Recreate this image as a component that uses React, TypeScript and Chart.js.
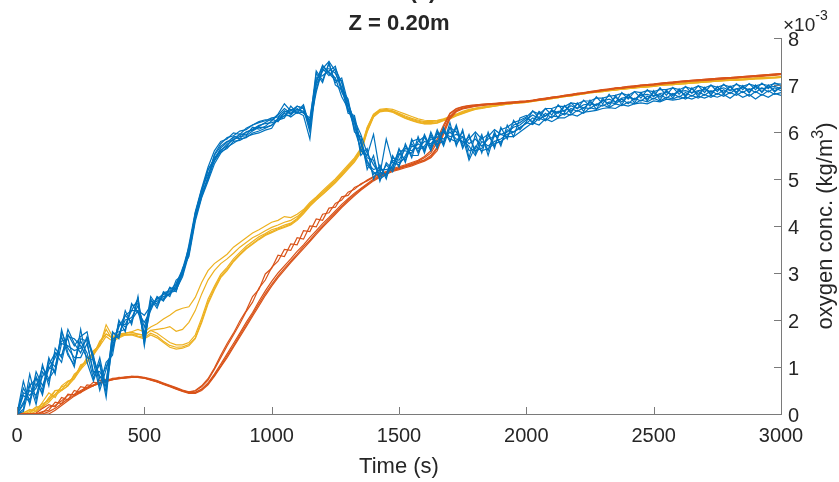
import React, { useEffect, useRef } from "react";
import { Chart, registerables } from "chart.js";

Chart.register(...registerables);

// Time grid (s)
const times = [
  0, 25, 50, 75, 100, 125, 150, 175, 200, 225,
  250, 275, 300, 325, 350, 375, 400, 425, 450, 475,
  500, 525, 550, 575, 600, 625, 650, 675, 700, 725,
  750, 775, 800, 825, 850, 875, 900, 925, 950, 975,
  1000, 1025, 1050, 1075, 1100, 1125, 1150, 1175, 1200, 1225,
  1250, 1275, 1300, 1325, 1350, 1375, 1400, 1425, 1450, 1475,
  1500, 1525, 1550, 1575, 1600, 1625, 1650, 1675, 1700, 1725,
  1750, 1775, 1800, 1825, 1850, 1875, 1900, 1925, 1950, 1975,
  2000, 2025, 2050, 2075, 2100, 2125, 2150, 2175, 2200, 2225,
  2250, 2275, 2300, 2325, 2350, 2375, 2400, 2425, 2450, 2475,
  2500, 2525, 2550, 2575, 2600, 2625, 2650, 2675, 2700, 2725,
  2750, 2775, 2800, 2825, 2850, 2875, 2900, 2925, 2950, 2975,
  3000,
];

// oxygen concentration, units of 1e-3 kg/m^3
const blue1 = [
  0, 0.7, 0.2, 0.8, 0.5, 1.2, 0.85, 1.8, 1.3, 1.0,
  1.8, 1.1, 0.7, 1.1, 0.45, 1.75, 1.6, 2.2, 1.9, 2.5,
  1.5, 2.45, 2.25, 2.6, 2.5, 2.85, 2.95, 3.6, 4.3, 4.8,
  5.25, 5.6, 5.8, 5.85, 5.98, 5.95, 6.08, 6.15, 6.22, 6.26,
  6.25, 6.38, 6.6, 6.45, 6.55, 6.5, 6.0, 7.25, 7.05, 7.48,
  7.0, 6.9, 6.65, 6.0, 5.9, 5.2, 5.5, 4.95, 5.35, 5.2,
  5.65, 5.35, 5.85, 5.55, 5.95, 5.65, 6.05, 5.75, 6.2, 5.7,
  6.05, 5.45, 5.95, 5.55, 6.0, 5.65, 6.1, 5.85, 6.25, 6.05,
  6.22, 6.45, 6.3, 6.5, 6.36, 6.58, 6.42, 6.62, 6.5, 6.68,
  6.55, 6.75, 6.6, 6.8, 6.62, 6.84, 6.7, 6.86, 6.72, 6.9,
  6.76, 6.94, 6.78, 6.95, 6.8, 6.97, 6.82, 6.98, 6.84, 7.0,
  6.86, 7.02, 6.88, 7.03, 6.9, 7.03, 6.9, 7.04, 6.92, 7.05,
  6.98,
];
const blue2 = [
  0, 0.1, 0.85, 0.3, 1.05, 0.6, 1.4, 1.2, 1.8, 1.5,
  1.3, 1.65, 1.25, 0.6, 1.1, 1.25, 2.0, 1.75, 2.35, 2.15,
  1.95, 2.2, 2.5, 2.4, 2.7, 2.6, 3.1, 3.35, 4.1, 4.6,
  4.95, 5.32, 5.55, 5.68, 5.76, 5.85, 5.88, 5.98, 6.02, 6.08,
  6.15, 6.25, 6.3, 6.55, 6.4, 6.42, 6.25, 6.9, 7.35, 7.2,
  7.35, 7.05, 6.45, 6.3, 5.5, 5.65, 5.0, 5.3, 5.0, 5.5,
  5.25, 5.75, 5.45, 5.9, 5.55, 6.0, 5.7, 6.1, 5.8, 6.1,
  5.65, 5.95, 5.55, 5.9, 5.6, 6.0, 5.7, 6.15, 5.9, 6.3,
  6.35, 6.18, 6.42, 6.25, 6.48, 6.3, 6.56, 6.4, 6.62, 6.44,
  6.68, 6.48, 6.72, 6.54, 6.78, 6.58, 6.8, 6.62, 6.84, 6.66,
  6.88, 6.68, 6.9, 6.72, 6.92, 6.74, 6.94, 6.75, 6.95, 6.78,
  6.97, 6.8, 6.98, 6.82, 6.99, 6.83, 7.0, 6.84, 7.0, 6.85,
  6.97,
];
const blue3 = [
  0, 0.55, 0.3, 0.65, 0.45, 1.15, 1.0, 1.65, 1.25, 1.05,
  1.6, 1.55, 0.85, 1.05, 0.35, 1.6, 1.65, 2.1, 2.2, 2.45,
  1.45, 2.4, 2.35, 2.55, 2.55, 2.75, 3.05, 3.5, 4.25, 4.78,
  5.1, 5.38, 5.58, 5.65, 5.8, 5.82, 5.9, 5.95, 5.98, 6.04,
  6.08, 6.3, 6.4, 6.32, 6.42, 6.35, 5.85, 7.05, 7.4, 7.28,
  7.15, 6.75, 6.5, 6.1, 5.8, 5.3, 5.15, 5.05, 5.3, 5.15,
  5.5, 5.7, 5.5, 5.5, 5.9, 5.6, 6.0, 5.7, 6.1, 5.75,
  5.9, 5.4, 5.7, 5.6, 5.65, 5.75, 5.8, 5.9, 5.9, 6.0,
  6.1, 6.2, 6.15, 6.28, 6.22, 6.3, 6.3, 6.38, 6.34, 6.42,
  6.44, 6.46, 6.5, 6.52, 6.5, 6.58, 6.55, 6.6, 6.62, 6.6,
  6.66, 6.64, 6.7, 6.68, 6.7, 6.74, 6.7, 6.76, 6.72, 6.78,
  6.74, 6.8, 6.72, 6.82, 6.74, 6.8, 6.7, 6.8, 6.74, 6.82,
  6.78,
];
const blue4 = [
  0, 0.2, 0.65, 0.2, 0.9, 0.7, 1.3, 1.25, 1.65, 1.6,
  1.45, 1.2, 1.15, 0.75, 1.0, 1.35, 1.95, 1.85, 2.0, 2.2,
  2.1, 2.3, 2.45, 2.45, 2.68, 2.65, 2.92, 3.4, 4.15, 4.62,
  5.02, 5.52, 5.75, 5.88, 5.92, 6.02, 6.05, 6.15, 6.2, 6.24,
  6.3, 6.32, 6.45, 6.38, 6.55, 6.5, 6.2, 7.3, 7.1, 7.45,
  7.05, 7.15, 6.62, 6.22, 5.6, 5.5, 5.95, 5.15, 5.1, 5.4,
  5.35, 5.45, 5.8, 5.85, 5.6, 5.95, 5.65, 6.05, 5.8, 6.15,
  5.7, 5.85, 6.0, 5.85, 5.95, 5.7, 6.05, 6.1, 6.2, 6.25,
  6.32, 6.44, 6.38, 6.5, 6.5, 6.55, 6.54, 6.62, 6.6, 6.66,
  6.66, 6.72, 6.72, 6.76, 6.78, 6.82, 6.78, 6.86, 6.84, 6.88,
  6.86, 6.9, 6.9, 6.94, 6.9, 6.96, 6.92, 6.98, 6.94, 6.99,
  6.95, 7.0, 6.96, 7.01, 6.97, 7.02, 6.98, 7.02, 6.99, 7.03,
  7.02,
];
const blue5 = [
  0, 0.45, 0.4, 0.55, 1.0, 0.75, 0.95, 1.75, 1.4, 1.2,
  1.2, 1.5, 0.9, 0.9, 0.65, 1.7, 1.75, 1.8, 2.3, 2.35,
  1.7, 2.5, 2.3, 2.58, 2.62, 2.78, 3.08, 3.55, 4.22, 4.72,
  5.18, 5.45, 5.62, 5.7, 5.88, 5.86, 6.0, 6.06, 6.14, 6.18,
  6.2, 6.24, 6.35, 6.46, 6.4, 6.55, 6.05, 7.0, 7.3, 7.35,
  7.25, 6.95, 6.4, 6.35, 5.75, 5.35, 5.2, 5.25, 5.05, 5.3,
  5.6, 5.6, 5.55, 5.8, 5.9, 5.7, 5.95, 6.0, 5.85, 5.8,
  6.0, 5.6, 5.65, 5.95, 5.5, 5.95, 5.75, 6.05, 6.0, 6.1,
  6.18, 6.3, 6.25, 6.4, 6.3, 6.44, 6.36, 6.5, 6.44, 6.52,
  6.5, 6.6, 6.55, 6.64, 6.6, 6.7, 6.6, 6.72, 6.66, 6.76,
  6.7, 6.8, 6.72, 6.82, 6.74, 6.84, 6.76, 6.86, 6.78, 6.88,
  6.8, 6.9, 6.82, 6.92, 6.84, 6.92, 6.84, 6.94, 6.85, 6.94,
  6.88,
];
const blue6 = [
  0, 0.05, 0.6, 0.75, 0.4, 1.05, 1.3, 1.1, 1.7, 1.45,
  1.65, 1.75, 1.1, 0.5, 0.95, 1.4, 1.85, 2.1, 1.95, 2.45,
  1.6, 2.25, 2.48, 2.42, 2.58, 2.62, 2.98, 3.42, 4.18, 4.66,
  5.05, 5.5, 5.7, 5.8, 5.82, 5.96, 5.94, 6.1, 6.06, 6.12,
  6.24, 6.36, 6.5, 6.4, 6.48, 6.44, 6.15, 6.85, 7.35, 7.5,
  7.3, 6.85, 6.58, 6.25, 5.95, 5.55, 5.3, 5.1, 5.85, 5.35,
  5.3, 5.5, 5.75, 5.6, 5.7, 5.9, 5.75, 5.8, 6.1, 6.0,
  5.75, 5.9, 5.6, 5.65, 5.9, 6.05, 5.95, 5.9, 6.15, 6.2,
  6.3, 6.22, 6.44, 6.34, 6.44, 6.4, 6.56, 6.44, 6.6, 6.5,
  6.64, 6.56, 6.68, 6.6, 6.74, 6.64, 6.78, 6.68, 6.82, 6.7,
  6.84, 6.74, 6.87, 6.77, 6.89, 6.78, 6.92, 6.8, 6.94, 6.82,
  6.95, 6.84, 6.96, 6.85, 6.97, 6.86, 6.98, 6.86, 6.99, 6.88,
  6.94,
];
const blue7 = [
  0, 0.4, 0.25, 0.9, 0.6, 0.95, 1.2, 1.55, 1.6, 1.1,
  1.55, 1.3, 0.75, 1.2, 0.55, 1.45, 1.9, 1.9, 2.2, 2.2,
  1.65, 2.35, 2.4, 2.5, 2.55, 2.72, 3.0, 3.48, 4.28, 4.75,
  5.2, 5.42, 5.6, 5.74, 5.84, 5.9, 5.92, 6.02, 6.1, 6.1,
  6.14, 6.28, 6.34, 6.36, 6.5, 6.4, 6.3, 7.15, 7.2, 7.3,
  7.4, 6.9, 6.7, 6.05, 5.65, 5.4, 5.1, 5.2, 5.2, 5.25,
  5.55, 5.4, 5.7, 5.65, 5.8, 5.75, 5.9, 5.85, 6.0, 5.85,
  5.8, 5.7, 5.5, 5.8, 5.7, 5.8, 5.85, 5.95, 6.0, 6.08,
  6.2, 6.16, 6.3, 6.24, 6.34, 6.32, 6.4, 6.36, 6.46, 6.4,
  6.52, 6.48, 6.58, 6.52, 6.6, 6.56, 6.64, 6.6, 6.68, 6.64,
  6.72, 6.66, 6.74, 6.7, 6.76, 6.7, 6.78, 6.72, 6.8, 6.74,
  6.82, 6.76, 6.84, 6.78, 6.86, 6.76, 6.86, 6.78, 6.88, 6.8,
  6.84,
];
const blue8 = [
  0, 0.25, 0.5, 0.4, 0.8, 1.0, 0.9, 1.5, 1.45, 1.35,
  1.4, 1.6, 1.2, 0.8, 0.7, 1.55, 1.7, 2.0, 2.05, 2.3,
  1.85, 2.28, 2.45, 2.55, 2.6, 2.68, 3.02, 3.44, 4.18, 4.7,
  4.98, 5.4, 5.66, 5.78, 5.9, 5.92, 6.0, 6.04, 6.12, 6.2,
  6.28, 6.22, 6.42, 6.48, 6.44, 6.58, 6.1, 7.08, 7.42, 7.25,
  7.1, 7.1, 6.5, 6.18, 5.8, 5.45, 5.4, 5.0, 5.1, 5.45,
  5.4, 5.65, 5.6, 5.75, 5.65, 5.85, 5.8, 6.0, 5.9, 5.95,
  5.9, 5.75, 5.85, 5.7, 5.85, 5.9, 5.95, 6.0, 6.1, 6.15,
  6.26, 6.36, 6.28, 6.34, 6.46, 6.42, 6.46, 6.56, 6.5, 6.58,
  6.6, 6.58, 6.66, 6.7, 6.64, 6.72, 6.74, 6.7, 6.78, 6.8,
  6.76, 6.82, 6.84, 6.8, 6.86, 6.88, 6.84, 6.88, 6.9, 6.86,
  6.9, 6.94, 6.88, 6.92, 6.95, 6.9, 6.96, 6.92, 6.95, 6.97,
  6.92,
];

const orange1 = [
  0, 0, 0, 0.02, 0.12, 0.2, 0.15, 0.35, 0.3, 0.5,
  0.45, 0.62, 0.6, 0.72, 0.7, 0.76, 0.77, 0.79, 0.8, 0.79,
  0.78, 0.75, 0.71, 0.66, 0.61, 0.56, 0.51, 0.47, 0.5, 0.6,
  0.75, 0.98, 1.25, 1.5, 1.72, 1.98, 2.2, 2.5, 2.65, 2.98,
  3.1, 3.38, 3.35, 3.62, 3.6, 3.9, 3.88, 4.15, 4.12, 4.38,
  4.4, 4.62, 4.65, 4.82, 4.88, 4.98, 5.05, 5.12, 5.16, 5.22,
  5.26, 5.3, 5.35, 5.4, 5.48, 5.6, 5.85, 6.15, 6.4, 6.5,
  6.54, 6.56, 6.58, 6.59, 6.6, 6.61, 6.62, 6.63, 6.64, 6.65,
  6.66, 6.68, 6.7, 6.72, 6.74, 6.76, 6.78, 6.8, 6.82, 6.84,
  6.86, 6.88, 6.9, 6.92, 6.94, 6.95, 6.97, 6.98, 7.0, 7.01,
  7.02, 7.04, 7.05, 7.06, 7.08, 7.09, 7.1, 7.11, 7.12, 7.13,
  7.14, 7.15, 7.16, 7.17, 7.18, 7.19, 7.2, 7.21, 7.22, 7.23,
  7.24,
];
const orange2 = [
  0, 0, 0, 0, 0.05, 0.08, 0.25, 0.22, 0.42, 0.4,
  0.58, 0.55, 0.68, 0.65, 0.74, 0.73, 0.78, 0.77, 0.8, 0.8,
  0.77, 0.73, 0.69, 0.64, 0.59, 0.54, 0.49, 0.46, 0.49, 0.58,
  0.72, 0.95, 1.2, 1.45, 1.68, 1.92, 2.18, 2.38, 2.68, 2.85,
  3.12, 3.25, 3.5, 3.48, 3.75, 3.72, 4.0, 3.98, 4.25, 4.28,
  4.48, 4.55, 4.72, 4.78, 4.9, 4.96, 5.04, 5.1, 5.15, 5.2,
  5.24, 5.28, 5.33, 5.38, 5.45, 5.55, 5.78, 6.1, 6.38, 6.49,
  6.53, 6.56, 6.57, 6.59, 6.6, 6.6, 6.62, 6.63, 6.63, 6.65,
  6.66, 6.67, 6.7, 6.71, 6.74, 6.75, 6.78, 6.79, 6.82, 6.83,
  6.86, 6.87, 6.9, 6.91, 6.93, 6.95, 6.96, 6.98, 6.99, 7.01,
  7.02, 7.03, 7.05, 7.06, 7.07, 7.09, 7.1, 7.11, 7.12, 7.13,
  7.14, 7.15, 7.16, 7.17, 7.18, 7.19, 7.2, 7.21, 7.22, 7.23,
  7.24,
];
const orange3 = [
  0, 0, 0, 0, 0, 0.05, 0.12, 0.22, 0.32, 0.4,
  0.48, 0.55, 0.6, 0.66, 0.7, 0.73, 0.75, 0.77, 0.78, 0.78,
  0.76, 0.73, 0.69, 0.64, 0.59, 0.54, 0.49, 0.45, 0.45, 0.52,
  0.64, 0.82, 1.02, 1.24, 1.45, 1.68, 1.9, 2.12, 2.35, 2.56,
  2.76, 2.94, 3.1, 3.25, 3.4, 3.56, 3.7, 3.86, 4.0, 4.14,
  4.28, 4.42, 4.55, 4.67, 4.78, 4.88, 4.98, 5.06, 5.12, 5.17,
  5.22, 5.26, 5.3, 5.35, 5.4, 5.47, 5.65, 6.0, 6.32, 6.45,
  6.5, 6.53, 6.55, 6.57, 6.58, 6.59, 6.6, 6.61, 6.62, 6.63,
  6.64, 6.66, 6.68, 6.7, 6.72, 6.74, 6.76, 6.78, 6.8, 6.82,
  6.84, 6.86, 6.88, 6.9, 6.92, 6.93, 6.95, 6.96, 6.98, 6.99,
  7.0, 7.02, 7.03, 7.04, 7.06, 7.07, 7.08, 7.09, 7.1, 7.11,
  7.12, 7.13, 7.14, 7.15, 7.16, 7.17, 7.18, 7.19, 7.2, 7.21,
  7.22,
];
const orange4 = [
  0, 0, 0, 0, 0, 0, 0.08, 0.18, 0.28, 0.38,
  0.46, 0.53, 0.6, 0.65, 0.69, 0.73, 0.75, 0.77, 0.78, 0.78,
  0.76, 0.72, 0.68, 0.63, 0.58, 0.53, 0.48, 0.44, 0.44, 0.5,
  0.62, 0.8, 1.0, 1.2, 1.42, 1.64, 1.86, 2.08, 2.3, 2.52,
  2.72, 2.9, 3.06, 3.22, 3.37, 3.52, 3.67, 3.82, 3.97, 4.11,
  4.25, 4.39, 4.52, 4.64, 4.76, 4.86, 4.96, 5.04, 5.1, 5.16,
  5.2, 5.24, 5.28, 5.33, 5.38, 5.45, 5.6, 5.95, 6.28, 6.43,
  6.49, 6.52, 6.55, 6.56, 6.58, 6.59, 6.6, 6.61, 6.62, 6.63,
  6.65, 6.66, 6.69, 6.7, 6.73, 6.74, 6.77, 6.78, 6.81, 6.82,
  6.85, 6.86, 6.89, 6.9, 6.93, 6.93, 6.96, 6.96, 6.99, 6.99,
  7.01, 7.02, 7.04, 7.04, 7.07, 7.07, 7.09, 7.09, 7.11, 7.11,
  7.13, 7.13, 7.15, 7.15, 7.17, 7.17, 7.19, 7.19, 7.21, 7.21,
  7.23,
];
const orange5 = [
  0, 0, 0, 0, 0.03, 0.15, 0.18, 0.28, 0.4, 0.42,
  0.5, 0.57, 0.62, 0.67, 0.71, 0.74, 0.76, 0.78, 0.79, 0.79,
  0.77, 0.74, 0.7, 0.65, 0.6, 0.55, 0.5, 0.46, 0.46, 0.53,
  0.66, 0.85, 1.06, 1.28, 1.5, 1.72, 1.95, 2.16, 2.4, 2.62,
  2.82, 3.0, 3.15, 3.3, 3.46, 3.6, 3.76, 3.9, 4.05, 4.18,
  4.32, 4.46, 4.58, 4.7, 4.8, 4.9, 5.0, 5.08, 5.13, 5.18,
  5.23, 5.27, 5.31, 5.36, 5.41, 5.5, 5.68, 6.02, 6.33, 6.46,
  6.51, 6.54, 6.56, 6.58, 6.59, 6.6, 6.61, 6.62, 6.63, 6.64,
  6.65, 6.67, 6.69, 6.71, 6.73, 6.75, 6.77, 6.79, 6.81, 6.83,
  6.85, 6.87, 6.89, 6.91, 6.93, 6.94, 6.96, 6.97, 6.99, 7.0,
  7.01, 7.03, 7.04, 7.05, 7.07, 7.08, 7.09, 7.1, 7.11, 7.12,
  7.13, 7.14, 7.15, 7.16, 7.17, 7.18, 7.19, 7.2, 7.21, 7.22,
  7.23,
];

const yellow1 = [
  0, 0.02, 0.1, 0.05, 0.25, 0.45, 0.35, 0.6, 0.7, 0.75,
  1.05, 1.1, 1.35, 1.45, 1.9, 1.65, 1.7, 1.72, 1.75, 1.8,
  1.75, 1.85, 1.92, 2.02, 2.1, 2.2, 2.25, 2.28, 2.48, 2.8,
  3.05, 3.2, 3.3, 3.4, 3.55, 3.65, 3.75, 3.85, 3.92, 4.0,
  4.08, 4.12, 4.2, 4.18, 4.25, 4.35, 4.5, 4.62, 4.75, 4.88,
  5.0, 5.15, 5.3, 5.45, 5.65, 6.1, 6.38, 6.48, 6.5, 6.48,
  6.43, 6.38, 6.33, 6.28, 6.25, 6.24, 6.25, 6.28, 6.33, 6.38,
  6.44, 6.48, 6.51, 6.53, 6.55, 6.57, 6.59, 6.61, 6.63, 6.64,
  6.65, 6.67, 6.69, 6.71, 6.73, 6.75, 6.77, 6.79, 6.81, 6.83,
  6.85, 6.87, 6.88, 6.9, 6.91, 6.93, 6.94, 6.96, 6.97, 6.98,
  6.99, 7.01, 7.02, 7.03, 7.04, 7.05, 7.06, 7.07, 7.08, 7.09,
  7.1, 7.11, 7.12, 7.13, 7.13, 7.14, 7.15, 7.16, 7.17, 7.17,
  7.18,
];
const yellow2 = [
  0, 0, 0.05, 0.15, 0.15, 0.35, 0.5, 0.5, 0.6, 0.85,
  0.95, 1.2, 1.25, 1.55, 1.7, 1.62, 1.68, 1.68, 1.7, 1.7,
  1.68, 1.78, 1.8, 1.82, 1.86, 1.76, 1.8, 1.95, 2.2, 2.55,
  2.85, 3.05, 3.2, 3.3, 3.42, 3.55, 3.65, 3.75, 3.82, 3.9,
  3.97, 4.02, 4.08, 4.12, 4.2, 4.32, 4.47, 4.6, 4.72, 4.85,
  4.97, 5.12, 5.27, 5.42, 5.62, 6.08, 6.37, 6.46, 6.48, 6.45,
  6.4, 6.34, 6.29, 6.25, 6.22, 6.22, 6.24, 6.27, 6.31, 6.37,
  6.42, 6.46, 6.5, 6.52, 6.54, 6.56, 6.58, 6.6, 6.62, 6.63,
  6.64, 6.66, 6.68, 6.7, 6.72, 6.74, 6.76, 6.78, 6.8, 6.82,
  6.84, 6.86, 6.87, 6.89, 6.9, 6.92, 6.93, 6.95, 6.96, 6.97,
  6.98, 7.0, 7.01, 7.02, 7.03, 7.04, 7.05, 7.06, 7.07, 7.08,
  7.09, 7.1, 7.11, 7.12, 7.12, 7.13, 7.14, 7.15, 7.16, 7.16,
  7.17,
];
const yellow3 = [
  0, 0, 0.02, 0.12, 0.22, 0.28, 0.5, 0.52, 0.68, 0.78,
  1.02, 1.12, 1.32, 1.48, 1.8, 1.58, 1.64, 1.7, 1.7, 1.66,
  1.63, 1.72, 1.66, 1.55, 1.46, 1.42, 1.43, 1.48, 1.62, 1.98,
  2.38, 2.68, 2.93, 3.08, 3.26, 3.4, 3.53, 3.63, 3.73, 3.82,
  3.88, 3.94, 3.99, 4.04, 4.14, 4.28, 4.44, 4.56, 4.68, 4.8,
  4.93, 5.08, 5.23, 5.38, 5.58, 6.02, 6.33, 6.44, 6.46, 6.43,
  6.37, 6.3, 6.25, 6.21, 6.18, 6.18, 6.2, 6.25, 6.29, 6.35,
  6.4, 6.45, 6.49, 6.51, 6.53, 6.55, 6.57, 6.59, 6.61, 6.62,
  6.63, 6.65, 6.67, 6.69, 6.71, 6.73, 6.75, 6.77, 6.79, 6.81,
  6.83, 6.85, 6.86, 6.88, 6.89, 6.91, 6.92, 6.94, 6.95, 6.96,
  6.97, 6.99, 7.0, 7.01, 7.02, 7.03, 7.04, 7.05, 7.06, 7.07,
  7.08, 7.09, 7.1, 7.11, 7.11, 7.12, 7.13, 7.14, 7.15, 7.15,
  7.16,
];
const yellow4 = [
  0, 0.03, 0.08, 0.08, 0.18, 0.32, 0.42, 0.58, 0.62, 0.82,
  0.98, 1.18, 1.28, 1.52, 1.7, 1.62, 1.66, 1.72, 1.74, 1.7,
  1.67, 1.78, 1.72, 1.62, 1.52, 1.47, 1.47, 1.52, 1.68, 2.04,
  2.44, 2.72, 2.97, 3.12, 3.3, 3.44, 3.57, 3.67, 3.77, 3.84,
  3.92, 3.96, 4.02, 4.06, 4.16, 4.31, 4.46, 4.59, 4.71, 4.83,
  4.96, 5.11, 5.26, 5.41, 5.61, 6.06, 6.36, 6.45, 6.47, 6.44,
  6.38, 6.32, 6.27, 6.23, 6.2, 6.2, 6.22, 6.26, 6.3, 6.36,
  6.41, 6.46, 6.5, 6.52, 6.54, 6.56, 6.58, 6.6, 6.61, 6.63,
  6.64, 6.66, 6.68, 6.69, 6.72, 6.73, 6.76, 6.77, 6.8, 6.81,
  6.84, 6.85, 6.87, 6.88, 6.9, 6.91, 6.93, 6.94, 6.96, 6.96,
  6.98, 6.99, 7.01, 7.01, 7.03, 7.03, 7.05, 7.05, 7.07, 7.07,
  7.09, 7.09, 7.11, 7.11, 7.12, 7.12, 7.14, 7.14, 7.16, 7.16,
  7.17,
];
const yellow5 = [
  0, 0, 0, 0.06, 0.15, 0.25, 0.4, 0.5, 0.6, 0.75,
  0.95, 1.1, 1.25, 1.45, 1.65, 1.55, 1.62, 1.68, 1.68, 1.64,
  1.6, 1.68, 1.62, 1.52, 1.42, 1.38, 1.4, 1.45, 1.6, 1.94,
  2.34, 2.64, 2.9, 3.05, 3.24, 3.38, 3.51, 3.61, 3.71, 3.8,
  3.86, 3.92, 3.97, 4.02, 4.12, 4.26, 4.42, 4.55, 4.67, 4.79,
  4.92, 5.06, 5.21, 5.36, 5.56, 6.0, 6.32, 6.43, 6.45, 6.42,
  6.35, 6.29, 6.24, 6.2, 6.17, 6.17, 6.19, 6.24, 6.28, 6.34,
  6.39, 6.44, 6.48, 6.5, 6.53, 6.55, 6.57, 6.59, 6.61, 6.62,
  6.63, 6.65, 6.67, 6.69, 6.71, 6.73, 6.75, 6.77, 6.79, 6.81,
  6.83, 6.85, 6.86, 6.88, 6.89, 6.91, 6.92, 6.94, 6.95, 6.96,
  6.97, 6.99, 7.0, 7.01, 7.02, 7.03, 7.04, 7.05, 7.06, 7.07,
  7.08, 7.09, 7.1, 7.1, 7.11, 7.12, 7.13, 7.13, 7.14, 7.15,
  7.16,
];

const xTicks = [0, 500, 1000, 1500, 2000, 2500, 3000];
const yTicks = [0, 1, 2, 3, 4, 5, 6, 7, 8];
const xTickLabels = ["0", "500", "1000", "1500", "2000", "2500", "3000"];
const yTickLabels = ["0", "1", "2", "3", "4", "5", "6", "7", "8"];

const BLUE = "#0072BD";
const ORANGE = "#D95319";
const YELLOW = "#EDB120";
const FONT = '"Liberation Sans", Arial, Helvetica, sans-serif';

const groups: [number[][], string][] = [
  [[blue1, blue2, blue3, blue4, blue5, blue6, blue7, blue8], BLUE],
  [[orange1, orange2, orange3, orange4, orange5], ORANGE],
  [[yellow1, yellow2, yellow3, yellow4, yellow5], YELLOW],
];

const decor = {
  id: "decor",
  afterDraw(chart: any) {
    const { ctx, scales } = chart;
    const xs = scales.x;
    const ys = scales.y;
    const x0 = Math.round(xs.getPixelForValue(0));
    const x1 = Math.round(xs.getPixelForValue(3000));
    const yB = Math.round(ys.getPixelForValue(0));
    const yT = Math.round(ys.getPixelForValue(8));
    ctx.save();
    ctx.strokeStyle = "#7a7a7a";
    ctx.lineWidth = 1;
    ctx.beginPath();
    ctx.moveTo(x0, yB + 0.5);
    ctx.lineTo(x1 + 1, yB + 0.5);
    ctx.moveTo(x1 + 0.5, yB + 1);
    ctx.lineTo(x1 + 0.5, yT);
    xTicks.forEach((v) => {
      const px = Math.round(xs.getPixelForValue(v)) + 0.5;
      ctx.moveTo(px, yB);
      ctx.lineTo(px, yB - 7);
    });
    yTicks.forEach((v) => {
      const py = Math.round(ys.getPixelForValue(v)) + 0.5;
      ctx.moveTo(x1, py);
      ctx.lineTo(x1 - 7, py);
    });
    ctx.stroke();

    ctx.fillStyle = "#262626";
    ctx.font = `20px ${FONT}`;
    ctx.textBaseline = "alphabetic";
    ctx.textAlign = "center";
    xTicks.forEach((v, i) => {
      ctx.fillText(xTickLabels[i], xs.getPixelForValue(v), yB + 28);
    });
    ctx.textAlign = "left";
    yTicks.forEach((v, i) => {
      ctx.fillText(yTickLabels[i], x1 + 7, ys.getPixelForValue(v) + 8);
    });

    // exponent marker
    ctx.font = `19px ${FONT}`;
    const mult = "\u00d710";
    ctx.fillText(mult, x1 + 2, 31);
    const wm = ctx.measureText(mult).width;
    ctx.font = `14px ${FONT}`;
    ctx.fillText("-3", x1 + 2 + wm, 20);

    // x label
    ctx.textAlign = "center";
    ctx.font = `22px ${FONT}`;
    const cx = (x0 + x1) / 2;
    ctx.fillText("Time (s)", cx, yB + 59);

    // titles
    ctx.font = `bold 22px ${FONT}`;
    ctx.fillText("Z = 0.20m", cx, 30);
    ctx.fillText("(c)", cx + 24, -2);

    // y label (right, reading upward)
    const cy = (yB + yT) / 2;
    ctx.save();
    ctx.translate(x1 + 51, cy);
    ctx.rotate(-Math.PI / 2);
    ctx.textAlign = "left";
    ctx.font = `22px ${FONT}`;
    const p1 = "oxygen conc. (kg/m";
    const p3 = ")";
    const w1 = ctx.measureText(p1).width;
    const w3 = ctx.measureText(p3).width;
    ctx.font = `16px ${FONT}`;
    const w2 = ctx.measureText("3").width;
    const start = -(w1 + w2 + w3) / 2;
    ctx.fillText("3", start + w1, -9);
    ctx.font = `22px ${FONT}`;
    ctx.fillText(p1, start, 0);
    ctx.fillText(p3, start + w1 + w2, 0);
    ctx.restore();

    ctx.restore();
  },
};

export default function App() {
  const ref = useRef<HTMLCanvasElement | null>(null);
  useEffect(() => {
    if (!ref.current) return;
    const datasets: any[] = [];
    groups.forEach(([lines, color]) => {
      lines.forEach((vals) => {
        datasets.push({
          data: times.map((t, i) => ({ x: t, y: vals[i] })),
          borderColor: color,
          backgroundColor: color,
          borderWidth: 1.2,
          pointRadius: 0,
          fill: false,
          tension: 0,
        });
      });
    });
    const chart = new Chart(ref.current, {
      type: "line",
      data: { datasets },
      options: {
        animation: false,
        responsive: false,
        maintainAspectRatio: false,
        devicePixelRatio: 1,
        layout: { padding: { left: 17, top: 38, right: 58, bottom: 68 } },
        plugins: { legend: { display: false }, tooltip: { enabled: false }, title: { display: false } },
        scales: {
          x: { type: "linear", min: 0, max: 3000, display: false },
          y: { type: "linear", min: 0, max: 8, display: false },
        },
      },
      plugins: [decor],
    });
    return () => chart.destroy();
  }, []);
  return (
    <div style={{ position: "absolute", left: 0, top: 0, width: 839, height: 482, background: "#fff" }}>
      <canvas ref={ref} width={839} height={482} style={{ display: "block" }} />
    </div>
  );
}
